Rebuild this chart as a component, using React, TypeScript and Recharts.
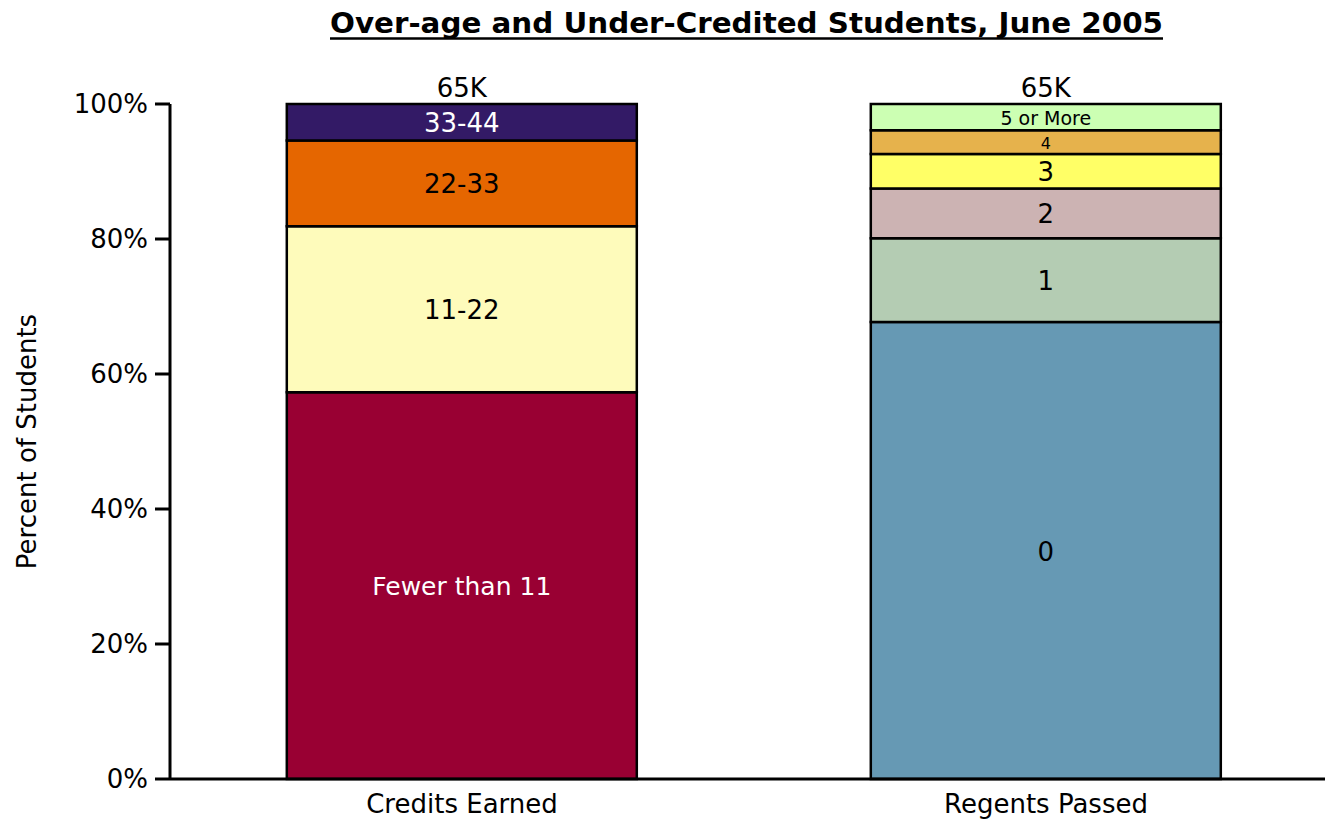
import React from 'react';
import { BarChart, Bar, XAxis, YAxis, LabelList, Label } from 'recharts';

const FONT = '"DejaVu Sans", Verdana, sans-serif';

const title = 'Over-age and Under-Credited Students, June 2005';
const yAxisTitle = 'Percent of Students';
const categories = ['Credits Earned', 'Regents Passed'];
const totals = ['65K', '65K'];
const yTicks = [0, 20, 40, 60, 80, 100];

const creditBands = ['Fewer than 11', '11-22', '22-33', '33-44'];
const creditValues = [57.3, 24.6, 12.7, 5.4];
const creditColors = ['#990033', '#FEFBBB', '#E56600', '#331A66'];
const creditTextColors = ['#FFFFFF', '#000000', '#000000', '#FFFFFF'];
const creditTextSizes = [25, 26, 26, 26];

const regentBands = ['0', '1', '2', '3', '4', '5 or More'];
const regentValues = [67.7, 12.4, 7.4, 5.1, 3.5, 3.9];
const regentColors = ['#6699B4', '#B4CCB3', '#CCB3B3', '#FFFF66', '#E6B24C', '#CCFFB3'];
const regentTextColors = ['#000000', '#000000', '#000000', '#000000', '#000000', '#000000'];
const regentTextSizes = [26, 26, 26, 26, 16, 19];

type Series = { key: string; name: string; color: string; text: string; size: number };

const series: Series[] = [
  ...creditBands.map((name, i) => ({
    key: `c${i}`, name, color: creditColors[i], text: creditTextColors[i], size: creditTextSizes[i],
  })),
  ...regentBands.map((name, i) => ({
    key: `r${i}`, name, color: regentColors[i], text: regentTextColors[i], size: regentTextSizes[i],
  })),
];

const data = categories.map((category, ci) => {
  const row: Record<string, string | number> = { category };
  creditBands.forEach((_, i) => { row[`c${i}`] = ci === 0 ? creditValues[i] : 0; });
  regentBands.forEach((_, i) => { row[`r${i}`] = ci === 1 ? regentValues[i] : 0; });
  let top = '';
  series.forEach((s) => { if ((row[s.key] as number) > 0) top = s.key; });
  series.forEach((s) => { row[`t_${s.key}`] = s.key === top ? totals[ci] : ''; });
  return row;
});

const makeSegmentLabel = (s: Series) => (props: any) => {
  const vb = props.viewBox ?? props;
  const { x, y, width, height } = vb;
  const value = props.value;
  if (!value || !height) return null;
  return (
    <text
      x={x + width / 2}
      y={y + height / 2 + 1}
      textAnchor="middle"
      dominantBaseline="central"
      fill={s.text}
      fontSize={s.size}
      fontFamily={FONT}
    >
      {s.name}
    </text>
  );
};

const totalLabel = (props: any) => {
  const vb = props.viewBox ?? props;
  const { x, y, width, height } = vb;
  if (!props.value) return null;
  const top = Math.min(y, y + height);
  return (
    <text
      x={x + width / 2}
      y={top - 7}
      textAnchor="middle"
      fill="#000"
      fontSize={26}
      fontFamily={FONT}
    >
      {props.value}
    </text>
  );
};

const YTitle = (props: any) => {
  const vb = props.viewBox;
  const cx = vb.x + 27;
  const cy = vb.y + vb.height / 2;
  return (
    <text
      x={cx}
      y={cy}
      transform={`rotate(-90 ${cx} ${cy})`}
      textAnchor="middle"
      dominantBaseline="central"
      fontSize={26}
      fontFamily={FONT}
      fill="#000"
    >
      {yAxisTitle}
    </text>
  );
};

export default function App() {
  return (
    <div
      style={{
        position: 'absolute',
        left: 0,
        top: 0,
        width: 1325,
        height: 819,
        overflow: 'hidden',
        background: '#fff',
      }}
    >
      <svg width={1325} height={60} style={{ position: 'absolute', left: 0, top: 0 }}>
        <text
          x={746.5}
          y={33}
          textAnchor="middle"
          fontSize={29}
          fontWeight="bold"
          fontFamily={FONT}
          textLength={833}
          lengthAdjust="spacingAndGlyphs"
          fill="#000"
        >
          {title}
        </text>
        <line x1={330} x2={1163} y1={38.5} y2={38.5} stroke="#000" strokeWidth={2.5} />
      </svg>
      <div style={{ position: 'absolute', left: 0, top: 0 }}>
        <BarChart
          width={1345}
          height={819}
          data={data}
          margin={{ top: 104, right: 7, bottom: 0, left: 0 }}
          barCategoryGap="20%"
        >
          <XAxis
            dataKey="category"
            axisLine={{ stroke: '#000', strokeWidth: 3 }}
            tickLine={false}
            tickMargin={10}
            tick={{ fill: '#000', fontSize: 26, fontFamily: FONT }}
            height={40}
          />
          <YAxis
            type="number"
            domain={[0, 100]}
            ticks={yTicks}
            interval={0}
            width={170}
            tickFormatter={(v: number) => `${v}%`}
            axisLine={{ stroke: '#000', strokeWidth: 3 }}
            tickLine={{ stroke: '#000', strokeWidth: 3 }}
            tickSize={15}
            tickMargin={7}
            tick={{ fill: '#000', fontSize: 26, fontFamily: FONT }}
          >
            <Label content={YTitle} />
          </YAxis>
          {series.map((s) => (
            <Bar
              key={s.key}
              dataKey={s.key}
              stackId="a"
              fill={s.color}
              stroke="#000"
              strokeWidth={2.5}
              isAnimationActive={false}
            >
              <LabelList dataKey={s.key} content={makeSegmentLabel(s)} />
              <LabelList dataKey={`t_${s.key}`} content={totalLabel} />
            </Bar>
          ))}
        </BarChart>
      </div>
    </div>
  );
}
